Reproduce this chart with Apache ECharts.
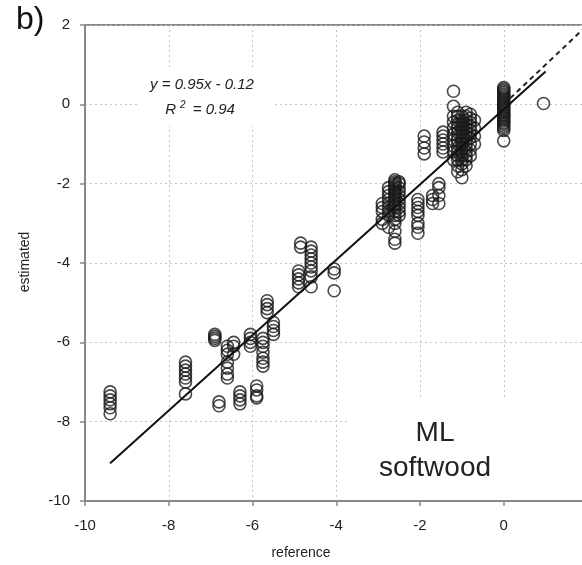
<!DOCTYPE html>
<html>
<head>
<meta charset="utf-8">
<script src="https://cdn.jsdelivr.net/npm/echarts@6/dist/echarts.min.js"></script>
<style>
  html, body { margin: 0; padding: 0; background: #fff; }
  #chart { width: 582px; height: 565px; }
</style>
</head>
<body>
<div id="chart"></div>
<script>
// reference x of each column of circles, and the estimated values in that column
var clusterX = [-9.4, -7.6, -6.9, -6.8, -6.6, -6.45, -6.3, -6.05, -5.9, -5.75, -5.65, -5.5,
	-4.9, -4.85, -4.6, -4.05, -2.9, -2.75, -2.6, -2.5, -2.05, -1.7, -1.55, -1.9, -1.45,
	-1.2, -1.1, -1.0, -0.9, -0.8, -0.7, 0, 0.95];
var clusterY = [
	[-7.25, -7.35, -7.45, -7.55, -7.65, -7.8],
	[-6.5, -6.6, -6.7, -6.8, -6.9, -7.0, -7.3],
	[-5.8, -5.85, -5.9, -5.95],
	[-7.5, -7.6],
	[-6.1, -6.2, -6.3, -6.5, -6.65, -6.8, -6.9],
	[-6.0, -6.1, -6.3],
	[-7.25, -7.35, -7.45, -7.55],
	[-5.8, -5.9, -6.0, -6.1],
	[-7.1, -7.2, -7.35, -7.4],
	[-5.9, -6.0, -6.1, -6.25, -6.4, -6.5, -6.6],
	[-4.95, -5.05, -5.15, -5.25],
	[-5.5, -5.6, -5.7, -5.8],
	[-4.2, -4.3, -4.4, -4.5, -4.6],
	[-3.5, -3.6],
	[-3.6, -3.7, -3.8, -3.9, -4.0, -4.1, -4.2, -4.35, -4.6],
	[-4.15, -4.25, -4.7],
	[-2.5, -2.6, -2.7, -2.9, -3.0],
	[-2.1, -2.2, -2.3, -2.4, -2.5, -2.6, -2.7, -2.8, -3.1],
	[-1.9, -1.95, -2.0, -2.05, -2.1, -2.15, -2.2, -2.25, -2.3, -2.35, -2.4, -2.45, -2.5, -2.55, -2.6, -2.7, -2.8, -2.9, -3.0, -3.2, -3.4, -3.5],
	[-1.95, -2.0, -2.1, -2.2, -2.3, -2.4, -2.5, -2.6, -2.7, -2.8],
	[-2.4, -2.5, -2.6, -2.7, -2.8, -3.0, -3.1, -3.25],
	[-2.3, -2.4, -2.5],
	[-2.0, -2.1, -2.3, -2.5],
	[-0.8, -0.95, -1.1, -1.25],
	[-0.7, -0.8, -0.9, -1.0, -1.1, -1.2],
	[0.33, -0.05, -0.3, -0.45, -0.6, -0.75, -0.9, -1.05, -1.2, -1.4],
	[-0.2, -0.3, -0.4, -0.5, -0.6, -0.7, -0.8, -0.9, -1.0, -1.1, -1.2, -1.3, -1.4, -1.55, -1.7],
	[-0.3, -0.4, -0.5, -0.6, -0.7, -0.8, -0.9, -1.0, -1.1, -1.2, -1.3, -1.4, -1.5, -1.65, -1.85],
	[-0.2, -0.3, -0.4, -0.5, -0.6, -0.7, -0.8, -0.9, -1.0, -1.1, -1.2, -1.3, -1.4, -1.55],
	[-0.25, -0.35, -0.45, -0.55, -0.65, -0.75, -0.85, -1.0, -1.15, -1.3],
	[-0.4, -0.6, -0.8, -1.0],
	[0.42, 0.38, 0.34, 0.3, 0.26, 0.22, 0.18, 0.14, 0.1, 0.06, 0.02, -0.02, -0.06, -0.1, -0.14,
		-0.18, -0.22, -0.26, -0.3, -0.34, -0.38, -0.42, -0.46, -0.5, -0.55, -0.6, -0.66, -0.92],
	[0.02]
];
var fitLine = [[-9.4, -9.05], [1.0, 0.83]];   // y = 0.95x - 0.12
var oneToOne = [[0, 0], [2, 2]];
var axisTicks = [-10, -8, -6, -4, -2, 0, 2];

var points = [];
for (var i = 0; i < clusterX.length; i++) {
	for (var j = 0; j < clusterY[i].length; j++) {
		points.push([clusterX[i], clusterY[i][j]]);
	}
}

var font = 'Arial, "Liberation Sans", sans-serif';
var myChart = echarts.init(document.getElementById('chart'));
var axisCommon = {
	type: 'value',
	min: axisTicks[0],
	max: axisTicks[axisTicks.length - 1],
	interval: 2,
	axisLine: { show: true, onZero: false, lineStyle: { color: '#888', width: 2 } },
	axisTick: { show: true, length: 5, lineStyle: { color: '#888', width: 1.5 } },
	axisLabel: { color: '#222', fontSize: 15, fontFamily: font },
	splitLine: { show: true, lineStyle: { color: '#c4c4c4', type: [2, 3], width: 1 } }
};
var options = {
	animation: false,
	backgroundColor: '#fff',
	grid: {
		left: 85, top: 25, width: 502.5, height: 476,
		containLabel: false, outerBoundsMode: 'none',
		show: true, borderColor: '#888', borderWidth: 2
	},
	xAxis: echarts.util.merge({ axisLabel: { margin: 17 } }, axisCommon, true),
	yAxis: echarts.util.merge({ axisLabel: { margin: 15 } }, axisCommon, true),
	graphic: [
		// white boxes behind the texts hide the grid lines
		{ type: 'rect', z: 1, shape: { x: 137, y: 68, width: 135, height: 58 }, style: { fill: '#fff' } },
		{ type: 'rect', z: 1, shape: { x: 348, y: 398, width: 240, height: 101 }, style: { fill: '#fff' } },
		{ type: 'text', z: 5, left: 16, top: 4, style: { text: 'b)', fontSize: 32, fontFamily: font, fill: '#111' } },
		{ type: 'text', z: 5, x: 202, y: 85, style: { text: 'y = 0.95x - 0.12', fontSize: 15, fontStyle: 'italic', fontFamily: font, fill: '#222', align: 'center', verticalAlign: 'middle' } },
		{ type: 'text', z: 5, x: 200, y: 110, style: {
			text: '{i|R}{s|2}{i| = 0.94}', align: 'center', verticalAlign: 'middle', fill: '#222',
			rich: {
				i: { fontSize: 15, fontStyle: 'italic', fontFamily: font, fill: '#222' },
				s: { fontSize: 10, fontStyle: 'italic', fontFamily: font, fill: '#222', padding: [0, 3, 10, 4] }
			}
		} },
		{ type: 'text', z: 5, x: 435, y: 433, style: { text: 'ML', fontSize: 28, fontFamily: font, fill: '#222', align: 'center', verticalAlign: 'middle' } },
		{ type: 'text', z: 5, x: 435, y: 468, style: { text: 'softwood', fontSize: 28, fontFamily: font, fill: '#222', align: 'center', verticalAlign: 'middle' } },
		{ type: 'text', z: 5, x: 301, y: 553, style: { text: 'reference', fontSize: 14, fontFamily: font, fill: '#222', align: 'center', verticalAlign: 'middle' } },
		{ type: 'text', z: 5, x: 25, y: 262, rotation: Math.PI / 2, style: { text: 'estimated', fontSize: 14, fontFamily: font, fill: '#222', align: 'center', verticalAlign: 'middle' } }
	],
	series: [
		{
			name: '1:1',
			type: 'line',
			data: oneToOne,
			symbol: 'none',
			z: 3,
			lineStyle: { color: '#222', width: 2, type: [5, 4] }
		},
		{
			name: 'observations',
			type: 'scatter',
			data: points,
			symbol: 'circle',
			symbolSize: 12,
			z: 4,
			itemStyle: { color: 'rgba(255,255,255,0)', borderColor: '#1a1a1a', borderWidth: 1.6 }
		},
		{
			name: 'fit',
			type: 'line',
			data: fitLine,
			symbol: 'none',
			z: 5,
			lineStyle: { color: '#111', width: 2 }
		}
	]
};
myChart.setOption(options);
</script>
</body>
</html>
